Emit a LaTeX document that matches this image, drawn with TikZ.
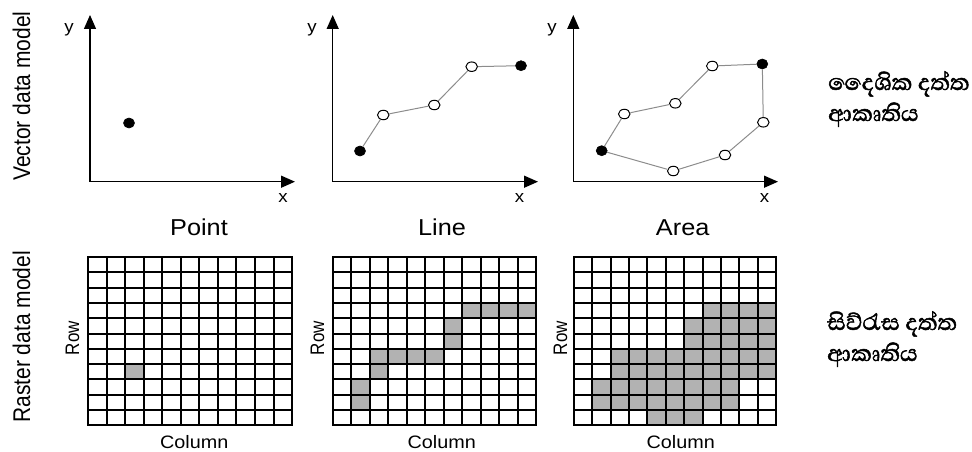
\documentclass[tikz,border=0pt]{standalone}
\usepackage{fontspec}
\usepackage{graphicx}
\setmainfont{Liberation Sans}
\newfontfamily\sinfont[Script=Sinhala,FakeBold=1.6]{Abhaya Libre}
\usetikzlibrary{arrows.meta,shapes.geometric}
\newcommand\hstr[1]{\scalebox{1.1}[1]{#1}}
\newcommand\vstr[1]{\scalebox{1}[1.15]{#1}}
\begin{document}
\begin{tikzpicture}[x=1pt,y=-1pt,
  axis/.style={line width=1.4pt,-{Triangle[length=14pt,width=12pt]}},
  edge/.style={draw=black!45,line width=1pt},
  dotb/.style={shape=ellipse,fill=black,draw=black,line width=0.6pt,minimum width=11pt,minimum height=10pt,inner sep=0pt},
  doto/.style={shape=ellipse,fill=white,draw=black,line width=1pt,minimum width=11.5pt,minimum height=9.5pt,inner sep=0pt},
  axlbl/.style={font=\fontsize{17}{17}\selectfont,inner sep=0pt},
  title/.style={font=\fontsize{23}{23}\selectfont,anchor=base,inner sep=0pt},
  side/.style={font=\fontsize{21}{21}\selectfont,rotate=90,inner sep=0pt},
  rowlbl/.style={font=\fontsize{17}{17}\selectfont,rotate=90,inner sep=0pt},
  collbl/.style={font=\fontsize{18}{18}\selectfont,anchor=base,inner sep=0pt},
  sin/.style={font=\sinfont\fontsize{29}{29}\selectfont,anchor=base west,inner sep=0pt},
  cellfill/.style={fill=black!30},
  gridline/.style={line width=1.8pt,line cap=rect}
]
\useasboundingbox (0,0) rectangle (972,452);

% ---------- side labels
\node[side] (vlab) at (21.5,96) {\vstr{Vector data model}};
\node[side] (rlab) at (21.5,337) {\vstr{Raster data model}};

% ---------- vector panel 1 : Point
\coordinate (o1) at (90,181.7);
\coordinate (y1) at (90,15);
\coordinate (x1) at (295,181.7);
\draw[axis] (o1) -- (y1);
\draw[axis] (o1) -- (x1);
\node[axlbl] (ly1) at (69,30) {\hstr{y}};
\node[axlbl] (lx1) at (283,198) {\hstr{x}};
\node[title] (tp) at (199,235) {\hstr{Point}};
\node[dotb] (p1) at (129,123) {};

% ---------- vector panel 2 : Line
\coordinate (o2) at (332.7,181.7);
\coordinate (y2) at (332.7,15);
\coordinate (x2) at (538,181.7);
\draw[axis] (o2) -- (y2);
\draw[axis] (o2) -- (x2);
\node[axlbl] (ly2) at (312,30) {\hstr{y}};
\node[axlbl] (lx2) at (519.5,198) {\hstr{x}};
\node[title] (tl) at (442,235) {\hstr{Line}};
\node[dotb] (l1) at (360,151) {};
\node[doto] (l2) at (383.3,115) {};
\node[doto] (l3) at (434.3,105) {};
\node[doto] (l4) at (471.7,66.7) {};
\node[dotb] (l5) at (521,65.7) {};
\draw[edge] (l1) -- (l2);
\draw[edge] (l2) -- (l3);
\draw[edge] (l3) -- (l4);
\draw[edge] (l4) -- (l5);

% ---------- vector panel 3 : Area
\coordinate (o3) at (573.3,181.7);
\coordinate (y3) at (573.3,15);
\coordinate (x3) at (778,181.7);
\draw[axis] (o3) -- (y3);
\draw[axis] (o3) -- (x3);
\node[axlbl] (ly3) at (552,30) {\hstr{y}};
\node[axlbl] (lx3) at (764.5,198) {\hstr{x}};
\node[title] (ta) at (682.7,235) {\hstr{Area}};
\node[dotb] (a1) at (601.7,150.7) {};
\node[doto] (a2) at (624.3,114) {};
\node[doto] (a3) at (675.3,103.3) {};
\node[doto] (a4) at (712.3,66) {};
\node[dotb] (a5) at (762.3,64) {};
\node[doto] (a6) at (763.3,122.3) {};
\node[doto] (a7) at (725,155) {};
\node[doto] (a8) at (673.3,171) {};
\draw[edge] (a1) -- (a2);
\draw[edge] (a2) -- (a3);
\draw[edge] (a3) -- (a4);
\draw[edge] (a4) -- (a5);
\draw[edge] (a5) -- (a6);
\draw[edge] (a6) -- (a7);
\draw[edge] (a7) -- (a8);
\draw[edge] (a8) -- (a1);

% ---------- raster grids
\def\gt{257}
\def\gh{15.3}
% grid 1
\def\gx{88}\def\gw{18.55}
\foreach \r/\a/\b in {7/2/2}
  \fill[cellfill] ({round(\gx+\a*\gw)},{round(\gt+\r*\gh)}) rectangle ({round(\gx+(\b+1)*\gw)},{round(\gt+(\r+1)*\gh)});
\foreach \i in {0,...,11} {
  \draw[gridline] ({round(\gx+\i*\gw)},\gt) -- ({round(\gx+\i*\gw)},{round(\gt+11*\gh)});
  \draw[gridline] (\gx,{round(\gt+\i*\gh)}) -- ({round(\gx+11*\gw)},{round(\gt+\i*\gh)});
}
\node[rowlbl] (row1) at (72.5,338) {\vstr{Row}};
\node[collbl] (col1) at (194.3,448) {\hstr{Column}};
% grid 2
\def\gx{333}\def\gw{18.48}
\foreach \r/\a/\b in {3/7/10,4/6/6,5/6/6,6/2/5,7/2/2,8/1/1,9/1/1}
  \fill[cellfill] ({round(\gx+\a*\gw)},{round(\gt+\r*\gh)}) rectangle ({round(\gx+(\b+1)*\gw)},{round(\gt+(\r+1)*\gh)});
\foreach \i in {0,...,11} {
  \draw[gridline] ({round(\gx+\i*\gw)},\gt) -- ({round(\gx+\i*\gw)},{round(\gt+11*\gh)});
  \draw[gridline] (\gx,{round(\gt+\i*\gh)}) -- ({round(\gx+11*\gw)},{round(\gt+\i*\gh)});
}
\node[rowlbl] (row2) at (317.5,338) {\vstr{Row}};
\node[collbl] (col2) at (441.7,448) {\hstr{Column}};
% grid 3
\def\gx{574}\def\gw{18.36}
\foreach \r/\a/\b in {3/7/10,4/6/10,5/6/10,6/2/10,7/2/10,8/1/8,9/1/8,10/4/6}
  \fill[cellfill] ({round(\gx+\a*\gw)},{round(\gt+\r*\gh)}) rectangle ({round(\gx+(\b+1)*\gw)},{round(\gt+(\r+1)*\gh)});
\foreach \i in {0,...,11} {
  \draw[gridline] ({round(\gx+\i*\gw)},\gt) -- ({round(\gx+\i*\gw)},{round(\gt+11*\gh)});
  \draw[gridline] (\gx,{round(\gt+\i*\gh)}) -- ({round(\gx+11*\gw)},{round(\gt+\i*\gh)});
}
\node[rowlbl] (row3) at (560.5,338) {\vstr{Row}};
\node[collbl] (col3) at (680.8,448) {\hstr{Column}};

% ---------- Sinhala captions
\node[sin] (s1a) at (828,90) {දෛශික දත්ත};
\node[sin] (s1b) at (828,121) {ආකෘතිය};
\node[sin] (s2a) at (827,330) {සිව්රැස දත්ත};
\node[sin] (s2b) at (827,361) {ආකෘතිය};
\end{tikzpicture}
\end{document}
